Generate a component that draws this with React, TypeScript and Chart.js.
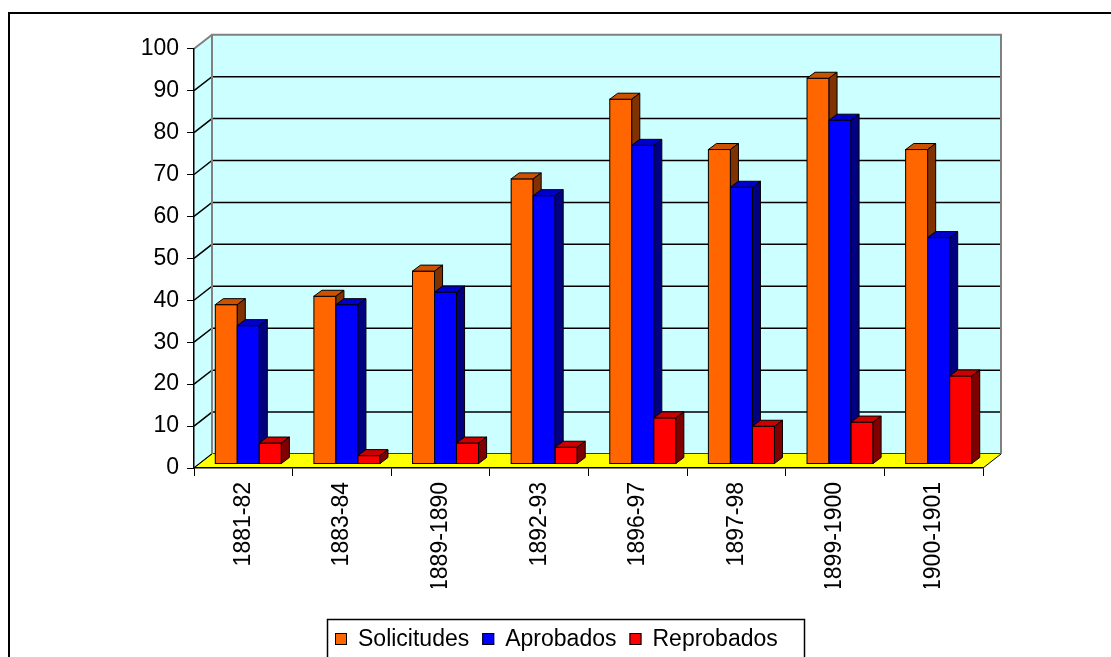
import React, { useEffect, useRef } from "react";
import { Chart, registerables } from "chart.js";

Chart.register(...registerables);

const categories = ["1881-82", "1883-84", "1889-1890", "1892-93", "1896-97", "1897-98", "1899-1900", "1900-1901"];
const solicitudes = [38, 40, 46, 68, 87, 75, 92, 75];
const aprobados = [33, 38, 41, 64, 76, 66, 82, 54];
const reprobados = [5, 2, 5, 4, 11, 9, 10, 21];
const seriesNames = ["Solicitudes", "Aprobados", "Reprobados"];
const yMin = 0;
const yMax = 100;
const yStep = 10;

const FRONT = ["#FF6600", "#0000FF", "#FF0000"];
const TOP = ["#CC5200", "#0000CC", "#CC0000"];
const SIDE = ["#803300", "#000080", "#800000"];
const FONT = '"Liberation Sans", Arial, sans-serif';

const DX = 18; // wall depth
const DY = 14;
const BDX = 8; // bar depth
const BDY = 6;
const SHIFT_X = 5; // bar row position in depth
const SHIFT_Y = -4;

const threeD = {
  id: "threeD",
  beforeDraw(chart: any) {
    const { ctx, chartArea } = chart;
    const { left, right, top, bottom } = chartArea;
    const y = chart.scales.y;
    ctx.save();
    // side wall
    ctx.fillStyle = "#CCFFFF";
    ctx.beginPath();
    ctx.moveTo(left, top);
    ctx.lineTo(left + DX, top - DY);
    ctx.lineTo(left + DX, bottom - DY);
    ctx.lineTo(left, bottom);
    ctx.closePath();
    ctx.fill();
    // back wall
    ctx.fillRect(left + DX, top - DY, right - left, bottom - top);
    // gridlines on back wall + diagonals on side wall
    for (let v = yMin; v <= yMax; v += yStep) {
      const py = y.getPixelForValue(v);
      ctx.strokeStyle = v === yMax ? "#808080" : "#000000";
      ctx.lineWidth = v === yMax ? 2 : 1.5;
      ctx.beginPath();
      ctx.moveTo(left, py);
      ctx.lineTo(left + DX, py - DY);
      if (v !== yMax) ctx.lineTo(right + DX, py - DY);
      ctx.stroke();
    }
    // wall outline
    ctx.strokeStyle = "#808080";
    ctx.lineWidth = 2;
    ctx.beginPath();
    ctx.moveTo(left + DX, bottom - DY);
    ctx.lineTo(left + DX, top - DY);
    ctx.lineTo(right + DX, top - DY);
    ctx.lineTo(right + DX, bottom - DY);
    ctx.stroke();
    // floor
    ctx.fillStyle = "#FFFF00";
    ctx.beginPath();
    ctx.moveTo(left, bottom);
    ctx.lineTo(right, bottom);
    ctx.lineTo(right + DX, bottom - DY);
    ctx.lineTo(left + DX, bottom - DY);
    ctx.closePath();
    ctx.fill();
    ctx.strokeStyle = "#000000";
    ctx.lineWidth = 1;
    ctx.beginPath();
    ctx.moveTo(right, bottom);
    ctx.lineTo(right + DX, bottom - DY);
    ctx.moveTo(left, bottom);
    ctx.lineTo(left + DX, bottom - DY);
    ctx.stroke();
    ctx.restore();
  },
  beforeDatasetsDraw(chart: any) {
    chart.ctx.save();
    chart.ctx.translate(SHIFT_X, SHIFT_Y);
  },
  afterDatasetsDraw(chart: any) {
    const ctx = chart.ctx;
    ctx.lineWidth = 1;
    ctx.strokeStyle = "#000000";
    ctx.lineJoin = "miter";
    const n = categories.length;
    for (let i = 0; i < n; i++) {
      for (let d = 0; d < chart.data.datasets.length; d++) {
        const el: any = chart.getDatasetMeta(d).data[i];
        if (!el) continue;
        const x0 = el.x - el.width / 2;
        const x1 = el.x + el.width / 2;
        const yt = el.y;
        const yb = el.base;
        // front
        ctx.fillStyle = FRONT[d];
        ctx.fillRect(x0, yt, x1 - x0, yb - yt);
        ctx.strokeRect(x0, yt, x1 - x0, yb - yt);
        // top
        ctx.fillStyle = TOP[d];
        ctx.beginPath();
        ctx.moveTo(x0, yt);
        ctx.lineTo(x0 + BDX, yt - BDY);
        ctx.lineTo(x1 + BDX, yt - BDY);
        ctx.lineTo(x1, yt);
        ctx.closePath();
        ctx.fill();
        ctx.stroke();
        // side
        ctx.fillStyle = SIDE[d];
        ctx.beginPath();
        ctx.moveTo(x1, yt);
        ctx.lineTo(x1 + BDX, yt - BDY);
        ctx.lineTo(x1 + BDX, yb - BDY);
        ctx.lineTo(x1, yb);
        ctx.closePath();
        ctx.fill();
        ctx.stroke();
      }
    }
    ctx.restore();
  },
  afterDraw(chart: any) {
    const ctx = chart.ctx;
    ctx.save();
    // legend
    ctx.strokeStyle = "#000000";
    ctx.lineWidth = 1.5;
    ctx.strokeRect(319.5, 611.5, 477, 80);
    ctx.font = `23px ${FONT}`;
    ctx.textBaseline = "middle";
    ctx.textAlign = "left";
    let x = 327;
    seriesNames.forEach((name, d) => {
      ctx.fillStyle = FRONT[d];
      ctx.fillRect(x, 625, 12, 12);
      ctx.lineWidth = 1;
      ctx.strokeRect(x + 0.5, 625.5, 11, 11);
      ctx.fillStyle = "#000000";
      ctx.fillText(name, x + 23, 632);
      x += 23 + ctx.measureText(name).width + 13;
    });
    // outer border
    ctx.lineWidth = 2;
    ctx.strokeRect(1, 5, 1300, 900);
    ctx.restore();
  },
};

export default function App() {
  const ref = useRef<HTMLCanvasElement | null>(null);
  useEffect(() => {
    if (!ref.current) return;
    const seriesData = [solicitudes, aprobados, reprobados];
    const chart = new Chart(ref.current, {
      type: "bar",
      data: {
        labels: categories,
        datasets: seriesNames.map((name, d) => ({
          label: name,
          data: seriesData[d],
          backgroundColor: FRONT[d],
          borderColor: "#000000",
          borderWidth: 1,
          categoryPercentage: 0.67,
          barPercentage: 1,
          clip: false as any,
        })),
      },
      options: {
        responsive: false,
        animation: false,
        devicePixelRatio: 1,
        layout: { padding: { left: 0, top: 40.7, right: 128, bottom: 69 } },
        plugins: { legend: { display: false }, tooltip: { enabled: false } },
        scales: {
          x: {
            grid: { display: true, drawOnChartArea: false, drawTicks: true, tickLength: 8, color: "#000000", offset: true },
            border: { display: true, color: "#000000", width: 1.5 },
            ticks: { font: { family: FONT, size: 23 }, color: "#000000", minRotation: 90, maxRotation: 90, autoSkip: false, padding: 6 },
            afterFit: (s: any) => { s.height = 120; },
          },
          y: {
            min: yMin,
            max: yMax,
            ticks: { stepSize: yStep, font: { family: FONT, size: 23 }, color: "#000000", padding: 8 },
            grid: { display: true, drawOnChartArea: false, drawTicks: true, tickLength: 7, color: "#000000" },
            border: { display: true, color: "#000000", width: 1.5 },
            afterFit: (s: any) => { s.width = 186; },
          },
        },
      },
      plugins: [threeD],
    });
    return () => chart.destroy();
  }, []);
  return (
    <canvas
      ref={ref}
      width={1103}
      height={649}
      style={{ position: "fixed", left: 8, top: 8, display: "block" }}
    />
  );
}
